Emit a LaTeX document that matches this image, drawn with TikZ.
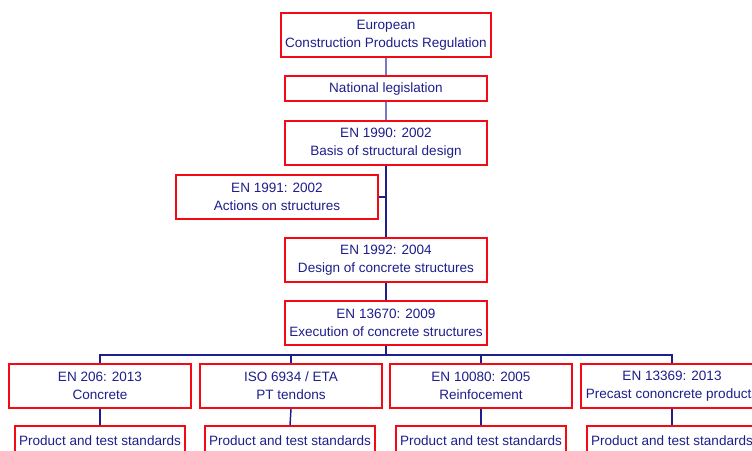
\documentclass[tikz,border=0pt]{standalone}
\usepackage{fontspec}
\setmainfont{Liberation Sans}
\definecolor{boxred}{RGB}{245,10,20}
\definecolor{inkblue}{RGB}{30,30,140}
\definecolor{paleblue}{RGB}{120,120,200}

\begin{document}
\begin{tikzpicture}[x=0.75pt,y=-0.75pt,
  font=\fontsize{10.15}{13.5}\selectfont,text=inkblue,
  stdbox/.style={draw=boxred,line width=1.5pt,fill=white,align=center,
    inner sep=0pt,minimum width=151.5pt,minimum height=33pt},
  slim/.style={stdbox,minimum height=18.75pt},
  rowbox/.style={stdbox,minimum width=136.5pt},
  prodbox/.style={stdbox,minimum width=127.5pt,minimum height=22.5pt},
  link/.style={draw=inkblue,line width=1.1pt},
  thinlink/.style={draw=paleblue,line width=1pt}]
  \clip (0,0) rectangle (752,450);

  \node[stdbox,minimum width=157.5pt] (eu) at (386,35)
    {European\\Construction Products Regulation};
  \node[slim] (natl) at (386,88.5) {National legislation};
  \node[stdbox] (en1990) at (386,143) {EN 1990: 2002\\Basis of structural design};
  \node[stdbox] (en1991) at (277,197) {EN 1991: 2002\\Actions on structures};
  \node[stdbox] (en1992) at (386,260) {EN 1992: 2004\\Design of concrete structures};
  \node[stdbox] (en13670) at (386,323) {EN 13670: 2009\\Execution of concrete structures};

  \node[rowbox] (conc) at (100,386) {EN 206: 2013\\Concrete};
  \node[rowbox] (tendon) at (291,386) {ISO 6934 / ETA\\PT tendons};
  \node[rowbox] (reinf) at (481,386) {EN 10080: 2005\\Reinfocement};
  \node[rowbox] (precast) at (672,386) {EN 13369: 2013\\Precast cononcrete products};

  % bottom row runs off the page
  \foreach \n/\x in {conc/100,tendon/290,reinf/481,precast/672}
    \node[prodbox] (\n-std) at (\x,441) {Product and test standards};

  \coordinate (bus) at (386,355);

  \draw[thinlink] (eu) -- (natl);
  \draw[thinlink] (natl) -- (en1990);
  \draw[link] (en1990) -- (en1992);
  \draw[link] (en1991.east) -- (en1991.east -| en1990.south);
  \draw[link] (en1992) -- (en13670);
  \foreach \n in {conc,tendon,reinf,precast} {
    \draw[link] (en13670.south) |- (bus -| \n.north) -- (\n.north);
    \draw[link] (\n.south) -- (\n-std.north);
  }
\end{tikzpicture}
\end{document}
